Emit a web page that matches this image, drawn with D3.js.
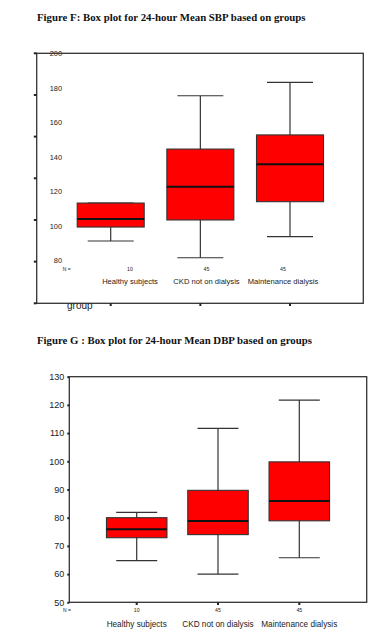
<!DOCTYPE html>
<html lang="en">
<head>
<meta charset="UTF-8">
<title>Box plots - 24-hour Mean SBP / DBP</title>
<style>
  body { margin: 0; background: #fff; }
  svg { display: block; }
  text { font-family: "Liberation Sans", Arial, sans-serif; fill: #222; }
  .title { font-family: "Liberation Serif", "Times New Roman", serif; font-weight: bold; fill: #111; }
</style>
<script src="https://d3js.org/d3.v7.min.js"></script>
</head>
<body>
<script>
var groups = ["Healthy subjects", "CKD not on dialysis", "Maintenance dialysis"];
var counts = [10, 45, 45];

// Figure F (SBP)
var sbpLow = [91.3, 81.6, 93.8];
var sbpQ1 = [99.4, 103.5, 114.1];
var sbpMedian = [104.1, 122.8, 135.8];
var sbpQ3 = [113.3, 144.6, 152.8];
var sbpHigh = [113.3, 175.5, 183.3];
var sbpTicks = [80, 100, 120, 140, 160, 180, 200];

// Figure G (DBP)
var dbpLow = [64.8, 60, 65.8];
var dbpQ1 = [72.9, 74, 78.9];
var dbpMedian = [75.9, 78.8, 85.9];
var dbpQ3 = [80, 89.7, 99.8];
var dbpHigh = [81.9, 111.7, 121.7];
var dbpTicks = [50, 60, 70, 80, 90, 100, 110, 120, 130];

var svg = d3.select("body").append("svg")
  .attr("width", 386)
  .attr("height", 638);

svg.append("rect").attr("width", 386).attr("height", 638).attr("fill", "#fff");

function makeRows(low, q1, med, q3, high) {
  return groups.map(function (gname, i) {
    return { group: gname, n: counts[i], low: low[i], q1: q1[i], med: med[i], q3: q3[i], high: high[i] };
  });
}

function drawBoxes(g, rows, x, y, boxW, capW) {
  var b = g.selectAll("g.box").data(rows).enter().append("g").attr("class", "box");
  // whiskers
  b.append("line")
    .attr("x1", function (d) { return x(d.group); })
    .attr("x2", function (d) { return x(d.group); })
    .attr("y1", function (d) { return y(d.high); })
    .attr("y2", function (d) { return y(d.low); })
    .attr("stroke", "#333").attr("stroke-width", 1.2);
  b.append("line")
    .attr("x1", function (d) { return x(d.group) - capW / 2; })
    .attr("x2", function (d) { return x(d.group) + capW / 2; })
    .attr("y1", function (d) { return y(d.high); })
    .attr("y2", function (d) { return y(d.high); })
    .attr("stroke", "#333").attr("stroke-width", 1.2);
  b.append("line")
    .attr("x1", function (d) { return x(d.group) - capW / 2; })
    .attr("x2", function (d) { return x(d.group) + capW / 2; })
    .attr("y1", function (d) { return y(d.low); })
    .attr("y2", function (d) { return y(d.low); })
    .attr("stroke", "#333").attr("stroke-width", 1.2);
  // box
  b.append("rect")
    .attr("x", function (d) { return x(d.group) - boxW / 2; })
    .attr("y", function (d) { return y(d.q3); })
    .attr("width", boxW)
    .attr("height", function (d) { return y(d.q1) - y(d.q3); })
    .attr("fill", "#ff0000")
    .attr("stroke", "#333").attr("stroke-width", 1.1);
  // median
  b.append("line")
    .attr("x1", function (d) { return x(d.group) - boxW / 2; })
    .attr("x2", function (d) { return x(d.group) + boxW / 2; })
    .attr("y1", function (d) { return y(d.med); })
    .attr("y2", function (d) { return y(d.med); })
    .attr("stroke", "#111").attr("stroke-width", 2);
}

// ---------- Figure F ----------
svg.append("text").attr("class", "title")
  .attr("x", 37).attr("y", 21).style("font-size", "10.8px")
  .text("Figure F: Box plot for 24-hour Mean SBP based on groups");

var fx = d3.scalePoint().domain(groups).range([110.7, 290]);
var fLab = d3.scalePoint().domain(groups).range([130, 283]);
var fy = d3.scaleLinear().domain([80, 200]).range([260.5, 53.5]);
var fFrame = d3.scaleLinear().domain([0, 6]).range([53.3, 303.3]);
var fg = svg.append("g");

fg.append("text").attr("x", 67).attr("y", 309).style("font-size", "10px").attr("fill", "#333").text("group");

fg.append("g").attr("transform", "translate(62,0)")
  .call(d3.axisLeft(fy).tickValues(sbpTicks).tickSize(0).tickPadding(0))
  .call(function (a) {
    a.select(".domain").remove();
    a.selectAll("text").style("font-size", "7.4px").attr("fill", "#444")
      .style("font-family", "'Liberation Sans', Arial, sans-serif");
  });

fg.append("rect").attr("x", 36.7).attr("y", 53.3).attr("width", 326.6).attr("height", 250)
  .attr("fill", "none").attr("stroke", "#333").attr("stroke-width", 1.3);

fg.selectAll("line.lt").data(d3.range(7)).enter().append("line").attr("class", "lt")
  .attr("x1", 33.8).attr("x2", 36.7)
  .attr("y1", function (d) { return fFrame(d); })
  .attr("y2", function (d) { return fFrame(d); })
  .attr("stroke", "#222").attr("stroke-width", 2);

fg.selectAll("line.bt").data(groups).enter().append("line").attr("class", "bt")
  .attr("x1", function (d) { return fx(d); }).attr("x2", function (d) { return fx(d); })
  .attr("y1", 303.3).attr("y2", 306)
  .attr("stroke", "#222").attr("stroke-width", 2);

drawBoxes(fg, makeRows(sbpLow, sbpQ1, sbpMedian, sbpQ3, sbpHigh), fx, fy, 67, 46);

fg.append("text").attr("x", 62.7).attr("y", 271).style("font-size", "5px").text("N =");
fg.selectAll("text.n").data(groups).enter().append("text").attr("class", "n")
  .attr("x", function (d) { return fLab(d); }).attr("y", 271)
  .attr("text-anchor", "middle").style("font-size", "5.2px")
  .text(function (d, i) { return counts[i]; });
fg.selectAll("text.cat").data(groups).enter().append("text").attr("class", "cat")
  .attr("x", function (d) { return fLab(d); }).attr("y", 283.5)
  .attr("text-anchor", "middle").style("font-size", "7.6px")
  .text(function (d) { return d; });

// ---------- Figure G ----------
svg.append("text").attr("class", "title")
  .attr("x", 37).attr("y", 344).style("font-size", "10.8px")
  .text("Figure G : Box plot for 24-hour Mean DBP based on groups");

var gx = d3.scalePoint().domain(groups).range([136.7, 299.3]);
var gy = d3.scaleLinear().domain([50, 130]).range([602.3, 376.7]);
var gg = svg.append("g");

gg.append("rect").attr("x", 69.3).attr("y", 376.7).attr("width", 297.4).attr("height", 225.6)
  .attr("fill", "none").attr("stroke", "#333").attr("stroke-width", 1.3);

gg.append("g").attr("transform", "translate(69.3,0)")
  .call(d3.axisLeft(gy).tickValues(dbpTicks).tickSize(2).tickPadding(3))
  .call(function (a) {
    a.select(".domain").remove();
    a.selectAll(".tick line").attr("stroke", "#222").attr("stroke-width", 2);
    a.selectAll("text").style("font-size", "9px").attr("fill", "#222")
      .style("font-family", "'Liberation Sans', Arial, sans-serif");
  });

gg.selectAll("line.bt").data(groups).enter().append("line").attr("class", "bt")
  .attr("x1", function (d) { return gx(d); }).attr("x2", function (d) { return gx(d); })
  .attr("y1", 602.3).attr("y2", 605)
  .attr("stroke", "#222").attr("stroke-width", 2);

drawBoxes(gg, makeRows(dbpLow, dbpQ1, dbpMedian, dbpQ3, dbpHigh), gx, gy, 60.5, 41);

gg.append("text").attr("x", 63).attr("y", 611.5).style("font-size", "5px").text("N =");
gg.selectAll("text.n").data(groups).enter().append("text").attr("class", "n")
  .attr("x", function (d) { return gx(d); }).attr("y", 611.5)
  .attr("text-anchor", "middle").style("font-size", "5.2px")
  .text(function (d, i) { return counts[i]; });
gg.selectAll("text.cat").data(groups).enter().append("text").attr("class", "cat")
  .attr("x", function (d) { return gx(d); }).attr("y", 627)
  .attr("text-anchor", "middle").style("font-size", "8.2px")
  .text(function (d) { return d; });
</script>
</body>
</html>
